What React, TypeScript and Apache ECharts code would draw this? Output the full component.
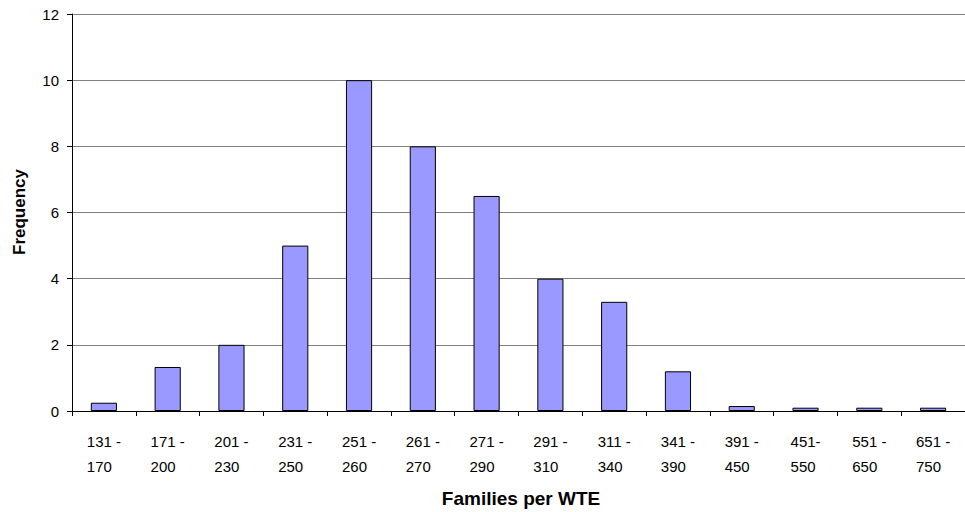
import React, { useEffect, useRef } from "react";
import * as echarts from "echarts";

const categories: string[] = [
  "131 -\n170",
  "171 -\n200",
  "201 -\n230",
  "231 -\n250",
  "251 -\n260",
  "261 -\n270",
  "271 -\n290",
  "291 -\n310",
  "311 -\n340",
  "341 -\n390",
  "391 -\n450",
  "451-\n550",
  "551 -\n650",
  "651 -\n750",
];

const values: number[] = [0.25, 1.33, 2, 5, 10, 8, 6.5, 4, 3.3, 1.2, 0.15, 0.1, 0.1, 0.1];

const yTicks = { min: 0, max: 12, interval: 2 };

const xTitle = "Families per WTE";
const yTitle = "Frequency";

const FONT = "'Liberation Sans', Arial, Helvetica, sans-serif";

export default function App() {
  const ref = useRef<HTMLDivElement>(null);

  useEffect(() => {
    document.body.style.margin = "0";
    if (!ref.current) return;
    const chart = echarts.init(ref.current, undefined, { renderer: "svg" });
    chart.setOption({
      animation: false,
      backgroundColor: "#ffffff",
      textStyle: { fontFamily: FONT },
      grid: { left: 72, right: -6, top: 14, bottom: 101, containLabel: false },
      xAxis: {
        type: "category",
        data: categories,
        boundaryGap: true,
        axisLine: { show: true, lineStyle: { color: "#000000", width: 1 } },
        axisTick: { show: true, length: 5, alignWithLabel: false, lineStyle: { color: "#000000" } },
        axisLabel: {
          interval: 0,
          margin: 18,
          color: "#000000",
          fontSize: 15,
          fontFamily: FONT,
          lineHeight: 25,
          formatter: (v: string) =>
            v
              .split("\n")
              .map((s) => "{a|" + s + "}")
              .join("\n"),
          rich: {
            a: { align: "left", fontSize: 15, lineHeight: 25, color: "#000000", fontFamily: FONT },
          },
        },
        splitLine: { show: false },
      },
      yAxis: {
        type: "value",
        min: yTicks.min,
        max: yTicks.max,
        interval: yTicks.interval,
        axisLine: { show: true, lineStyle: { color: "#000000", width: 1 } },
        axisTick: { show: true, length: 5, lineStyle: { color: "#000000" } },
        axisLabel: { color: "#000000", fontSize: 15, margin: 13, fontFamily: FONT },
        splitLine: { show: true, lineStyle: { color: "#808080", width: 1 } },
      },
      graphic: [
        {
          type: "text",
          x: 521,
          y: 498,
          style: {
            text: xTitle,
            fontSize: 19,
            fontWeight: "bold",
            fontFamily: FONT,
            fill: "#000000",
            textAlign: "center",
            textVerticalAlign: "middle",
          },
        },
        {
          type: "text",
          x: 19,
          y: 212,
          rotation: Math.PI / 2,
          style: {
            text: yTitle,
            fontSize: 17,
            fontWeight: "bold",
            fontFamily: FONT,
            fill: "#000000",
            textAlign: "center",
            textVerticalAlign: "middle",
          },
        },
      ],
      series: [
        {
          type: "bar",
          data: values,
          barWidth: "41%",
          itemStyle: { color: "#9999FF", borderColor: "#000000", borderWidth: 1 },
        },
      ],
    });
    return () => chart.dispose();
  }, []);

  return <div ref={ref} style={{ width: 965, height: 512 }} />;
}
